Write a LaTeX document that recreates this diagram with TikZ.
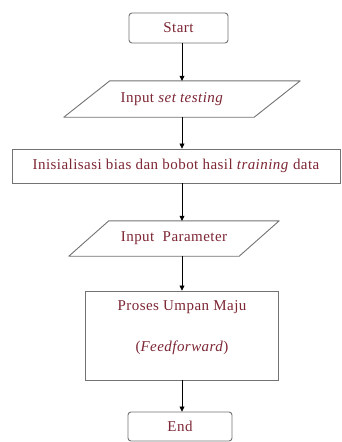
\documentclass[tikz,border=0pt]{standalone}
\usepackage{fontspec}
\setmainfont{Liberation Serif}[LetterSpace=3]
\usetikzlibrary{calc,arrows.meta}
\definecolor{txt}{RGB}{125,38,52}
\definecolor{edge}{RGB}{115,115,115}
\begin{document}
\begin{tikzpicture}[x=1pt,y=-1pt,
  lbl/.style={text=txt,font=\fontsize{15}{18}\selectfont,inner sep=0pt},
  boxr/.style={draw=edge,line width=0.9pt,rounded corners=3pt,inner sep=0pt,text=txt,font=\fontsize{15}{18}\selectfont},
  boxs/.style={draw=edge,line width=0.9pt,inner sep=0pt,text=txt,font=\fontsize{15}{18}\selectfont},
  ghost/.style={draw=none,inner sep=0pt,text=txt,font=\fontsize{15}{18}\selectfont},
  para/.style={draw=edge,line width=0.9pt,line join=round},
  flow/.style={draw=black,line width=0.7pt,-{Triangle[length=5pt,width=5pt]}}]
\useasboundingbox[fill=white] (0,0) rectangle (342,442);

\node[boxr,minimum width=99pt,minimum height=30pt] (start) at (178.5,28) {Start};

\node[ghost,minimum width=236pt,minimum height=36pt] (in1) at (182,99) {};
\draw[para] ($(in1.north west)+(46,0)$) -- (in1.north east) -- ($(in1.south east)-(46,0)$) -- (in1.south west) -- cycle;
\node[lbl] (in1t) at (172,99) {Input \textit{set testing}};

\node[boxs,minimum width=328pt,minimum height=34pt] (init) at (176,166) {Inisialisasi bias dan bobot hasil \textit{training} data};

\node[ghost,minimum width=210pt,minimum height=35pt] (in2) at (174,238.5) {Input\ \ Parameter};
\draw[para] ($(in2.north west)+(40,0)$) -- (in2.north east) -- ($(in2.south east)-(40,0)$) -- (in2.south west) -- cycle;

\node[boxs,minimum width=193pt,minimum height=89pt] (proc) at (181.5,335.5) {};
\node[lbl] (proc1) at (182,307) {Proses Umpan Maju};
\node[lbl] (proc2) at (182,348) {(\textit{Feedforward})};

\node[boxr,minimum width=104pt,minimum height=29pt] (end) at (180,426.5) {End};

\coordinate (ax) at (182,0);
\draw[flow] (start.south -| ax) -- (in1.north -| ax);
\draw[flow] (in1.south -| ax) -- (init.north -| ax);
\draw[flow] (init.south -| ax) -- (in2.north -| ax);
\draw[flow] (in2.south -| ax) -- (proc.north -| ax);
\draw[flow] (proc.south -| ax) -- (end.north -| ax);
\end{tikzpicture}
\end{document}
